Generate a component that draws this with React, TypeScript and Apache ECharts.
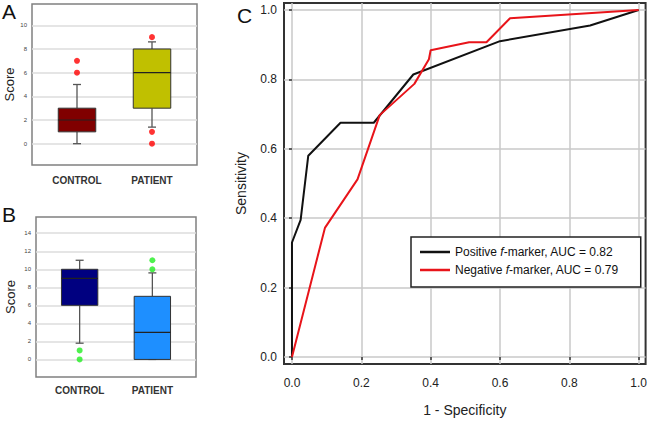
import React, { useEffect, useRef } from "react";
import * as echarts from "echarts";

const groupCategories = ["CONTROL", "PATIENT"];
// [position, lowWhisker, Q1, median, Q3, highWhisker]
const panelABoxes = [
  [0, 0, 1, 2, 3, 5],
  [1, 1.4, 3, 6, 8, 8.6],
];
const panelAOutliers = [[0, 6], [0, 7], [1, 9], [1, 1], [1, 0]];
const panelBBoxes = [
  [0, 1.8, 6, 9, 10, 11],
  [1, 0, 0, 3, 7, 9.6],
];
const panelBOutliers = [[0, 1], [0, 0], [1, 10], [1, 11]];
const scoreTicksA = [0, 2, 4, 6, 8, 10];
const scoreTicksB = [0, 2, 4, 6, 8, 10, 12, 14];
const rocTicks = [0, 0.2, 0.4, 0.6, 0.8, 1.0];
const positiveName = "Positive f-marker, AUC = 0.82";
const negativeName = "Negative f-marker, AUC = 0.79";
const positiveROC = [
  [0, 0], [0, 0.33], [0.025, 0.395], [0.047, 0.58], [0.14, 0.675],
  [0.236, 0.675], [0.35, 0.814], [0.6, 0.91], [0.86, 0.955], [1, 1],
];
const negativeROC = [
  [0, 0], [0.095, 0.372], [0.189, 0.512], [0.253, 0.697], [0.353, 0.787],
  [0.395, 0.858], [0.4, 0.884], [0.511, 0.907], [0.561, 0.907], [0.629, 0.976], [1, 1],
];

const boxColorsA = ["#800000", "#c0c000"];
const boxColorsB = ["#000080", "#1e8fff"];
const FONT = "Liberation Sans, Arial, sans-serif";

function makeBoxRender(colors: string[]) {
  return (params: any, api: any) => {
    const x = api.value(0);
    const lo = api.coord([x, api.value(1)]);
    const q1 = api.coord([x, api.value(2)]);
    const med = api.coord([x, api.value(3)]);
    const q3 = api.coord([x, api.value(4)]);
    const hi = api.coord([x, api.value(5)]);
    const half = api.size([0.5, 0])[0] / 2;
    const cap = 4;
    const cx = lo[0];
    const wStyle = { stroke: "#555", lineWidth: 1.3 };
    return {
      type: "group",
      children: [
        { type: "line", shape: { x1: cx, y1: lo[1], x2: cx, y2: q1[1] }, style: wStyle },
        { type: "line", shape: { x1: cx, y1: q3[1], x2: cx, y2: hi[1] }, style: wStyle },
        { type: "line", shape: { x1: cx - cap, y1: lo[1], x2: cx + cap, y2: lo[1] }, style: wStyle },
        { type: "line", shape: { x1: cx - cap, y1: hi[1], x2: cx + cap, y2: hi[1] }, style: wStyle },
        {
          type: "rect",
          shape: { x: cx - half, y: q3[1], width: half * 2, height: q1[1] - q3[1] },
          style: { fill: colors[params.dataIndex], stroke: "#333", lineWidth: 1 },
        },
        {
          type: "line",
          shape: { x1: cx - half, y1: med[1], x2: cx + half, y2: med[1] },
          style: { stroke: "#222", lineWidth: 1.2 },
        },
      ],
    };
  };
}

function boxXAxis(gridIndex: number, margin: number) {
  return {
    type: "value",
    gridIndex,
    min: -0.6,
    max: 1.6,
    axisLine: { show: false },
    axisTick: { show: false, customValues: [0, 1] },
    splitLine: { show: false },
    axisLabel: {
      customValues: [0, 1],
      formatter: (v: number) => groupCategories[Math.round(v)],
      fontFamily: FONT,
      fontSize: 10,
      fontWeight: "bold",
      color: "#333",
      margin,
    },
  };
}

function boxYAxis(gridIndex: number, min: number, max: number, ticks: number[], nameGap: number) {
  return {
    type: "value",
    gridIndex,
    min,
    max,
    name: "Score",
    nameLocation: "middle",
    nameGap,
    nameTextStyle: { fontFamily: FONT, fontSize: 13, color: "#222" },
    axisLine: { show: false },
    axisTick: { show: false, customValues: ticks },
    splitLine: { show: true, lineStyle: { color: "#dcdcdc", width: 1.5 } },
    axisLabel: { customValues: ticks, fontFamily: FONT, fontSize: 6, color: "#444", margin: 5 },
  };
}

export default function App() {
  const ref = useRef<HTMLDivElement>(null);
  useEffect(() => {
    if (!ref.current) return;
    const chart = echarts.init(ref.current, null, { renderer: "svg" });
    const rich = { i: { fontStyle: "italic", fontFamily: FONT, fontSize: 12, color: "#111" } };
    chart.setOption({
      animation: false,
      backgroundColor: "#fff",
      graphic: [
        { type: "text", left: 2, top: 1, style: { text: "A", fontSize: 21, fontFamily: FONT, fill: "#111" } },
        { type: "text", left: 2, top: 204, style: { text: "B", fontSize: 21, fontFamily: FONT, fill: "#111" } },
        { type: "text", left: 237, top: 5, style: { text: "C", fontSize: 21, fontFamily: FONT, fill: "#111" } },
      ],
      grid: [
        { left: 32, top: 4, width: 165, height: 161, show: true, borderColor: "#808080", borderWidth: 1.5 },
        { left: 36, top: 217, width: 160, height: 160, show: true, borderColor: "#808080", borderWidth: 1.5 },
        { left: 284, top: 3, width: 363, height: 366, show: true, borderColor: "#333", borderWidth: 2 },
      ],
      xAxis: [
        boxXAxis(0, 10),
        boxXAxis(1, 8),
        {
          type: "value",
          gridIndex: 2,
          min: -0.023,
          max: 1.02,
          name: "1 - Specificity",
          nameLocation: "middle",
          nameGap: 39,
          nameTextStyle: { fontFamily: FONT, fontSize: 14, color: "#222" },
          axisLine: { show: false },
          axisTick: { show: true, length: 3, customValues: rocTicks, lineStyle: { color: "#333", width: 1.5 } },
          splitLine: { show: true, lineStyle: { color: "#c8c8c8", width: 1.5 } },
          axisLabel: {
            customValues: rocTicks,
            formatter: (v: number) => v.toFixed(1),
            fontFamily: FONT,
            fontSize: 12,
            color: "#222",
            margin: 13,
          },
        },
      ],
      yAxis: [
        boxYAxis(0, -1.8, 11.8, scoreTicksA, 15),
        boxYAxis(1, -1.95, 15.8, scoreTicksB, 19),
        {
          type: "value",
          gridIndex: 2,
          min: -0.02,
          max: 1.02,
          name: "Sensitivity",
          nameLocation: "middle",
          nameGap: 36,
          nameTextStyle: { fontFamily: FONT, fontSize: 14, color: "#222" },
          axisLine: { show: false },
          axisTick: { show: true, length: 3, customValues: rocTicks, lineStyle: { color: "#333", width: 1.5 } },
          splitLine: { show: true, lineStyle: { color: "#c8c8c8", width: 1.5 } },
          axisLabel: {
            customValues: rocTicks,
            formatter: (v: number) => v.toFixed(1),
            fontFamily: FONT,
            fontSize: 12,
            color: "#222",
            margin: 7,
          },
        },
      ],
      legend: {
        data: [
          { name: positiveName, icon: "rect" },
          { name: negativeName, icon: "rect" },
        ],
        orient: "vertical",
        left: 411,
        top: 237,
        padding: [9, 22, 11, 9],
        itemGap: 6,
        itemWidth: 30,
        itemHeight: 2.5,
        backgroundColor: "#fff",
        borderColor: "#222",
        borderWidth: 1.5,
        borderRadius: 0,
        textStyle: { fontFamily: FONT, fontSize: 12, color: "#111", rich },
        formatter: (name: string) => name.replace(" f-", " {i|f}-"),
      },
      series: [
        {
          type: "custom",
          xAxisIndex: 0,
          yAxisIndex: 0,
          renderItem: makeBoxRender(boxColorsA),
          data: panelABoxes,
          encode: { x: 0, y: [1, 2, 3, 4, 5] },
          z: 3,
        },
        {
          type: "scatter",
          xAxisIndex: 0,
          yAxisIndex: 0,
          data: panelAOutliers,
          symbolSize: 6,
          itemStyle: { color: "#ff0000" },
          z: 4,
        },
        {
          type: "custom",
          xAxisIndex: 1,
          yAxisIndex: 1,
          renderItem: makeBoxRender(boxColorsB),
          data: panelBBoxes,
          encode: { x: 0, y: [1, 2, 3, 4, 5] },
          z: 3,
        },
        {
          type: "scatter",
          xAxisIndex: 1,
          yAxisIndex: 1,
          data: panelBOutliers,
          symbolSize: 6,
          itemStyle: { color: "#22ee22" },
          z: 4,
        },
        {
          name: positiveName,
          type: "line",
          xAxisIndex: 2,
          yAxisIndex: 2,
          data: positiveROC,
          showSymbol: false,
          symbol: "none",
          lineStyle: { color: "#111", width: 2 },
          itemStyle: { color: "#111" },
          z: 3,
        },
        {
          name: negativeName,
          type: "line",
          xAxisIndex: 2,
          yAxisIndex: 2,
          data: negativeROC,
          showSymbol: false,
          symbol: "none",
          lineStyle: { color: "#e8141a", width: 2 },
          itemStyle: { color: "#e8141a" },
          z: 3,
        },
      ],
    });
    return () => chart.dispose();
  }, []);
  return (
    <div
      ref={ref}
      style={{ position: "fixed", left: 0, top: 0, width: 650, height: 422 }}
    />
  );
}
